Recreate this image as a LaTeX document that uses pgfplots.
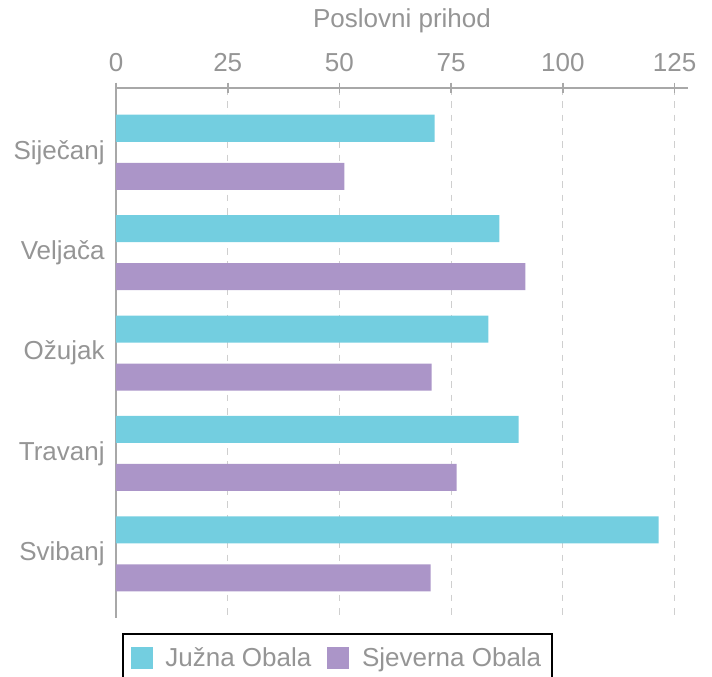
\documentclass[border=0pt]{standalone}
\usepackage{pgfplots}
\pgfplotsset{compat=1.18}
\usepackage{fontspec}
\setmainfont{Liberation Sans}
\definecolor{cj}{HTML}{73CEE0}
\definecolor{cs}{HTML}{AB95C8}
\definecolor{tg}{HTML}{959595}
\definecolor{ax}{HTML}{A8A8A8}
\definecolor{gr}{HTML}{CFCFCF}
\begin{document}
\begin{tikzpicture}[font=\fontsize{19.5}{23}\selectfont]
\begin{axis}[
  name=ax,
  scale only axis, width=429pt, height=397.5pt,
  xbar, bar width=20.25pt,
  xmin=0, xmax=128,
  ymin=-0.64, ymax=4.64, y dir=reverse,
  ytick={0,1,2,3,4},
  yticklabels={Siječanj,Veljača,Ožujak,Travanj,Svibanj},
  xtick={0,25,50,75,100,125},
  axis x line*=top, axis y line*=left,
  axis line style={draw=ax, line width=1.6pt, -},
  x tick style={draw=ax, line width=1.2pt},
  tick align=center, major tick length=8pt,
  y tick style={draw=none},
  xmajorgrids, major grid style={draw=gr, line width=0.9pt, dash pattern=on 5pt off 5pt},
  ticklabel style={text=tg},
  xticklabel style={yshift=5pt},
  yticklabel style={xshift=-1pt},
  /pgf/number format/assume math mode=true,
  xlabel={Poslovni prihod}, xlabel style={text=tg, yshift=8pt},
  legend columns=2,
  legend style={at={(0.01,-0.028)}, anchor=north west, draw=black, line width=1.5pt,
    text=tg, inner xsep=6pt, inner ysep=8.5pt,
    /tikz/every odd column/.append style={column sep=7.5pt},
    /tikz/every even column/.append style={column sep=10pt}},
  legend image code/.code={\fill[#1, draw=none] (0pt,-8.25pt) rectangle (16.5pt,8.25pt);},
  clip=false,
]
\addplot[fill=cj, draw=none, bar shift=18pt] coordinates {(71.3,0) (85.8,1) (83.3,2) (90.1,3) (121.4,4)};
\addlegendentry{Južna Obala}
\addplot[fill=cs, draw=none, bar shift=-18pt] coordinates {(51.1,0) (91.6,1) (70.6,2) (76.2,3) (70.4,4)};
\addlegendentry{Sjeverna Obala}
\end{axis}
\pgfresetboundingbox
\path[use as bounding box] ([xshift=-87pt,yshift=66pt]ax.north west) rectangle ([xshift=447pt,yshift=-441pt]ax.north west);
\end{tikzpicture}
\end{document}
